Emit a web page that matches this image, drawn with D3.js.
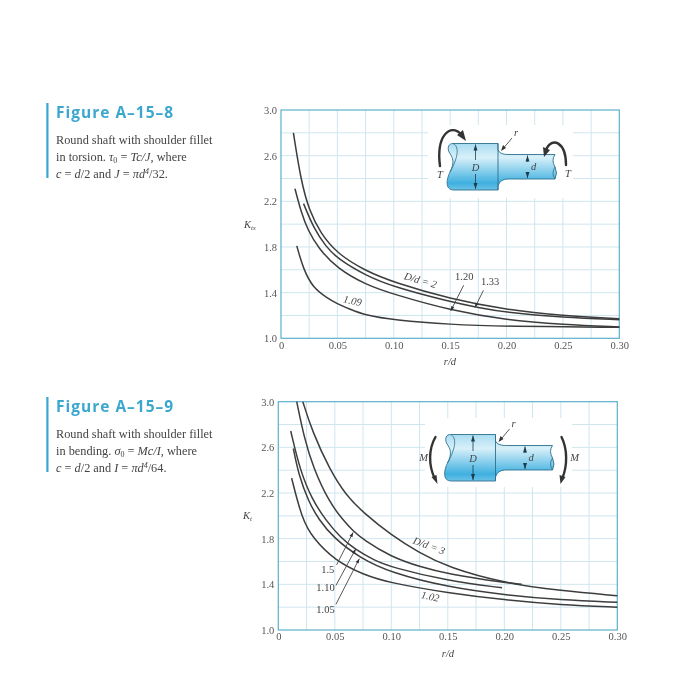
<!DOCTYPE html>
<html>
<head>
<meta charset="utf-8">
<script src="https://cdn.jsdelivr.net/npm/d3@7"></script>
<style>
  body { margin: 0; background: #fff; }
  svg { filter: blur(0.35px); }
  text { font-family: "Liberation Serif", serif; fill: #444; }
  .title { font-family: "Open Sans", sans-serif; font-weight: 700; font-size: 15.5px; fill: #3ba7cf; letter-spacing: 1px; }
  .body { font-size: 12.3px; }
  .ital { font-style: italic; }
  .tick text { font-family: "Liberation Serif", serif; font-size: 10.5px; fill: #555; }
</style>
</head>
<body>
<div id="chart"></div>
<script>
// Tick values shared by both plots
var xTicks = [0, 0.05, 0.10, 0.15, 0.20, 0.25, 0.30];
var yTicks = [1.0, 1.4, 1.8, 2.2, 2.6, 3.0];
var xGrid = [0.025, 0.05, 0.075, 0.10, 0.125, 0.15, 0.175, 0.20, 0.225, 0.25, 0.275];
var yGrid = [1.2, 1.4, 1.6, 1.8, 2.0, 2.2, 2.4, 2.6, 2.8];

// Figure A-15-8 curves, [r/d, Kts]
var torsion2 = [[0.011,2.80],[0.0177,2.38],[0.025,2.12],[0.035,1.92],[0.05,1.74],[0.075,1.59],[0.10,1.49],[0.15,1.345],[0.20,1.25],[0.25,1.197],[0.30,1.172]];
var torsion133 = [[0.02,2.18],[0.0287,1.97],[0.04,1.80],[0.05,1.70],[0.075,1.55],[0.10,1.45],[0.15,1.32],[0.175,1.268],[0.20,1.225],[0.25,1.182],[0.30,1.163]];
var torsion120 = [[0.0124,2.31],[0.018,2.10],[0.0237,1.95],[0.033,1.79],[0.05,1.61],[0.075,1.47],[0.10,1.385],[0.15,1.245],[0.20,1.16],[0.25,1.12],[0.30,1.10]];
var torsion109 = [[0.014,1.81],[0.02,1.60],[0.0287,1.44],[0.04,1.36],[0.05,1.30],[0.06,1.26],[0.075,1.20],[0.10,1.16],[0.15,1.12],[0.20,1.105],[0.30,1.096]];

// Figure A-15-9 curves, [r/d, Kt]
var bending3 = [[0.0217,3.0],[0.03,2.74],[0.0457,2.40],[0.06,2.18],[0.075,2.03],[0.10,1.83],[0.125,1.675],[0.15,1.55],[0.20,1.41],[0.25,1.344],[0.30,1.30]];
var bending15 = [[0.0163,3.0],[0.023,2.68],[0.031,2.42],[0.045,2.12],[0.0575,1.96],[0.066,1.87],[0.0753,1.79],[0.10,1.64],[0.125,1.555],[0.15,1.49],[0.20,1.415],[0.2154,1.40]];
var bending110 = [[0.011,2.743],[0.0192,2.40],[0.03,2.14],[0.0422,1.96],[0.055,1.81],[0.0673,1.71],[0.085,1.61],[0.10,1.55],[0.15,1.43],[0.198,1.37]];
var bending105 = [[0.0133,2.59],[0.018,2.36],[0.027,2.12],[0.0357,1.97],[0.0486,1.81],[0.0722,1.63],[0.10,1.50],[0.15,1.375],[0.20,1.307],[0.25,1.263],[0.30,1.243]];
var bending102 = [[0.0118,2.33],[0.021,1.97],[0.031,1.80],[0.05,1.61],[0.075,1.485],[0.10,1.41],[0.15,1.325],[0.20,1.263],[0.25,1.22],[0.30,1.20]];

var svg = d3.select("#chart").append("svg").attr("width", 700).attr("height", 697);

var defs = svg.append("defs");
var grad = defs.append("linearGradient").attr("id", "shaft").attr("x1", 0).attr("x2", 0).attr("y1", 0).attr("y2", 1);
grad.append("stop").attr("offset", "0%").attr("stop-color", "#a8dcf1");
grad.append("stop").attr("offset", "30%").attr("stop-color", "#d8f0f9");
grad.append("stop").attr("offset", "85%").attr("stop-color", "#3fb0e0");
grad.append("stop").attr("offset", "100%").attr("stop-color", "#6cc2e6");

var line = d3.line().curve(d3.curveBasis);

function drawPlot(box, curves) {
  var x = d3.scaleLinear().domain([0, 0.3]).range([box.left, box.right]);
  var y = d3.scaleLinear().domain([1, 3]).range([box.bottom, box.top]);
  var g = svg.append("g");

  // grid
  g.selectAll(".gx").data(xGrid).enter().append("line")
    .attr("x1", d => x(d)).attr("x2", d => x(d)).attr("y1", box.top).attr("y2", box.bottom)
    .attr("stroke", "#cfe6ee").attr("stroke-width", 1);
  g.selectAll(".gy").data(yGrid).enter().append("line")
    .attr("x1", box.left).attr("x2", box.right).attr("y1", d => y(d)).attr("y2", d => y(d))
    .attr("stroke", "#cfe6ee").attr("stroke-width", 1);

  // white patch behind the shaft drawing
  g.append("rect").attr("x", box.patch[0]).attr("y", box.patch[1])
    .attr("width", box.patch[2]).attr("height", box.patch[3]).attr("fill", "#fff");

  // frame
  g.append("rect").attr("x", box.left).attr("y", box.top)
    .attr("width", box.right - box.left).attr("height", box.bottom - box.top)
    .attr("fill", "none").attr("stroke", "#5bb0cb").attr("stroke-width", 1.2);

  // axes, only used for the labels
  var bottomAxis = d3.axisBottom(x).tickValues(xTicks).tickSize(0).tickPadding(3)
    .tickFormat(d => d === 0 ? "0" : d3.format(".2f")(d));
  var leftAxis = d3.axisLeft(y).tickValues(yTicks).tickSize(0).tickPadding(4)
    .tickFormat(d3.format(".1f"));
  var gx = g.append("g").attr("transform", `translate(0, ${box.bottom})`).call(bottomAxis);
  var gy = g.append("g").attr("transform", `translate(${box.left}, 0)`).call(leftAxis);
  gx.select(".domain").remove();
  gy.select(".domain").remove();

  // curves
  g.selectAll(".curve").data(curves).enter().append("path")
    .attr("d", d => line(d.map(p => [x(p[0]), y(p[1])])))
    .attr("fill", "none").attr("stroke", "#3d3d3d").attr("stroke-width", 1.5);

  return { x: x, y: y, g: g };
}

// leader from a label to its curve, both ends in r/d and K
function leader(p, from, to) {
  var x1 = p.x(from[0]), y1 = p.y(from[1]), x2 = p.x(to[0]), y2 = p.y(to[1]);
  p.g.append("line").attr("x1", x1).attr("y1", y1).attr("x2", x2).attr("y2", y2)
    .attr("stroke", "#444").attr("stroke-width", 0.9);
  var a = Math.atan2(y2 - y1, x2 - x1), s = 5;
  var pts = [[x2, y2],
    [x2 - s * Math.cos(a - 0.35), y2 - s * Math.sin(a - 0.35)],
    [x2 - s * Math.cos(a + 0.35), y2 - s * Math.sin(a + 0.35)]];
  p.g.append("polygon").attr("points", pts.join(" ")).attr("fill", "#333");
}

function label(p, at, str, rot, ital) {
  var px = p.x(at[0]), py = p.y(at[1]);
  p.g.append("text").attr("x", px).attr("y", py).attr("dy", "0.35em")
    .attr("text-anchor", "middle").attr("font-size", 10.5)
    .attr("class", ital ? "ital" : null)
    .attr("transform", rot ? `rotate(${rot} ${px} ${py})` : null)
    .text(str);
}

function sideText(top, lines) {
  svg.append("rect").attr("x", 46.3).attr("y", top).attr("width", 2.2).attr("height", 75).attr("fill", "#3ba7cf");
  svg.append("text").attr("class", "title").attr("x", 56).attr("y", top + 15).text(lines.title);
  lines.rows.forEach(function(row, i) {
    var t = svg.append("text").attr("class", "body").attr("x", 56).attr("y", top + 41 + i * 16.8);
    row.forEach(function(part) {
      var s = t.append("tspan").text(part[0]);
      if (part[1] === "i") s.attr("class", "ital");
      if (part[1] === "sub") s.attr("font-size", 8).attr("dy", 2);
      if (part[1] === "sup") s.attr("font-size", 8).attr("dy", -4).attr("class", "ital");
      if (part[2]) s.attr("dy", part[2]);
    });
  });
}

// shaft drawing, local coordinates match the upper figure
function shaft(ox, oy) {
  var g = svg.append("g").attr("transform", `translate(${ox}, ${oy})`);
  g.append("path")
    .attr("d", "M453,143.5 L498,143.5 L498,150 Q500,154.5 508,154.5 L555,154.5 Q551,160 555,167 Q558,173 555,179 L508,179 Q500,179 498,186 L498,190 L454,190 C444,190 447,178 450,172 C455,162 453,158 449,152 C447,147 449,143.5 453,143.5 Z")
    .attr("fill", "url(#shaft)").attr("stroke", "#2c6f8c").attr("stroke-width", 0.9);
  // end break lines
  g.append("path").attr("d", "M453,143.5 C459,146 459,156 450,172").attr("fill", "none").attr("stroke", "#2c6f8c").attr("stroke-width", 0.8);
  g.append("path").attr("d", "M555,167 Q551,173 555,179").attr("fill", "none").attr("stroke", "#2c6f8c").attr("stroke-width", 0.8);
  g.append("line").attr("x1", 498).attr("x2", 498).attr("y1", 143.5).attr("y2", 190).attr("stroke", "#2c6f8c").attr("stroke-width", 0.9);
  // dimension arrows
  [[475.5, 144.5, 160], [475.5, 189, 174], [527.5, 155.5, 162], [527.5, 178, 172]].forEach(function(d) {
    g.append("line").attr("x1", d[0]).attr("x2", d[0]).attr("y1", d[1]).attr("y2", d[2]).attr("stroke", "#1d3d4d").attr("stroke-width", 0.8);
    var dir = d[2] > d[1] ? 1 : -1;
    g.append("polygon").attr("points", [[d[0], d[1]], [d[0] - 2, d[1] + dir * 6], [d[0] + 2, d[1] + dir * 6]].join(" ")).attr("fill", "#1d3d4d");
  });
  // fillet pointer
  g.append("line").attr("x1", 512).attr("y1", 138).attr("x2", 502).attr("y2", 150).attr("stroke", "#333").attr("stroke-width", 0.8);
  g.append("polygon").attr("points", "501,151 503,145 506,148").attr("fill", "#333");
  [["D", 475.5, 171], ["d", 533.5, 170], ["r", 516, 136]].forEach(function(d) {
    g.append("text").attr("class", "ital").attr("x", d[1]).attr("y", d[2]).attr("text-anchor", "middle").attr("font-size", 10.5).text(d[0]);
  });
  return g;
}

function bigArrow(g, path, head) {
  g.append("path").attr("d", path).attr("fill", "none").attr("stroke", "#333").attr("stroke-width", 2.4).attr("stroke-linecap", "round");
  g.append("polygon").attr("points", head).attr("fill", "#333");
}

// ---------- Figure A-15-8 ----------
sideText(103, {
  title: "Figure A\u201315\u20138",
  rows: [
    [["Round shaft with shoulder fillet"]],
    [["in torsion. "], ["\u03c4", "i"], ["0", "sub"], [" = ", null, -2], ["Tc/J", "i"], [", where"]],
    [["c", "i"], [" = "], ["d", "i"], ["/2 and "], ["J", "i"], [" = "], ["\u03c0d", "i"], ["4", "sup"], ["/32.", null, 4]]
  ]
});

var top8 = drawPlot({ left: 281, right: 619.3, top: 110, bottom: 338.3, patch: [428, 125, 145, 73] },
  [torsion2, torsion133, torsion120, torsion109]);
label(top8, [0.1237, 1.51], "D/d = 2", 16, true);
label(top8, [0.1625, 1.54], "1.20");
label(top8, [0.1855, 1.50], "1.33");
label(top8, [0.0635, 1.33], "1.09", 12, true);
leader(top8, [0.162, 1.465], [0.1505, 1.24]);
leader(top8, [0.1795, 1.42], [0.172, 1.27]);

var s8 = shaft(0, 0);
bigArrow(s8, "M440,166 C436,136 450,122 462,135", "466,141 457,135 463,130");
bigArrow(s8, "M566,165 C566,142 552,136 546,150", "544,157 543,147 550,150");
[["T", 440, 178], ["T", 568, 177]].forEach(function(d) {
  s8.append("text").attr("class", "ital").attr("x", d[1]).attr("y", d[2]).attr("text-anchor", "middle").attr("font-size", 10.5).text(d[0]);
});
svg.append("text").attr("class", "ital").attr("x", 244).attr("y", 228).attr("font-size", 10.5).text("K")
  .append("tspan").attr("font-size", 7).attr("dy", 2).text("ts");
svg.append("text").attr("class", "ital").attr("x", 450).attr("y", 365).attr("text-anchor", "middle").attr("font-size", 10.5).text("r/d");

// ---------- Figure A-15-9 ----------
sideText(397, {
  title: "Figure A\u201315\u20139",
  rows: [
    [["Round shaft with shoulder fillet"]],
    [["in bending. "], ["\u03c3", "i"], ["0", "sub"], [" = ", null, -2], ["Mc/I", "i"], [", where"]],
    [["c", "i"], [" = "], ["d", "i"], ["/2 and "], ["I", "i"], [" = "], ["\u03c0d", "i"], ["4", "sup"], ["/64.", null, 4]]
  ]
});

var top9 = drawPlot({ left: 278.3, right: 617.3, top: 401.7, bottom: 630, patch: [425, 418, 147, 69] },
  [bending3, bending15, bending110, bending105, bending102]);
label(top9, [0.1335, 1.74], "D/d = 3", 20, true);
label(top9, [0.0438, 1.535], "1.5");
label(top9, [0.0418, 1.37], "1.10");
label(top9, [0.0418, 1.185], "1.05");
label(top9, [0.1345, 1.295], "1.02", 12, true);
leader(top9, [0.0516, 1.57], [0.0662, 1.855]);
leader(top9, [0.0510, 1.39], [0.0685, 1.71]);
leader(top9, [0.0510, 1.225], [0.0717, 1.625]);

var s9 = shaft(-2.5, 291);
bigArrow(s9, "M438,146 C431,158 431,174 437,187", "440,193 434,186 439,184");
bigArrow(s9, "M564,146 C570,158 570,174 565,187", "563,193 562,184 568,186");
[["M", 426, 170], ["M", 577, 170]].forEach(function(d) {
  s9.append("text").attr("class", "ital").attr("x", d[1]).attr("y", d[2]).attr("text-anchor", "middle").attr("font-size", 10.5).text(d[0]);
});
svg.append("text").attr("class", "ital").attr("x", 243).attr("y", 519).attr("font-size", 10.5).text("K")
  .append("tspan").attr("font-size", 7).attr("dy", 2).text("t");
svg.append("text").attr("class", "ital").attr("x", 448).attr("y", 657).attr("text-anchor", "middle").attr("font-size", 10.5).text("r/d");
</script>
</body>
</html>
